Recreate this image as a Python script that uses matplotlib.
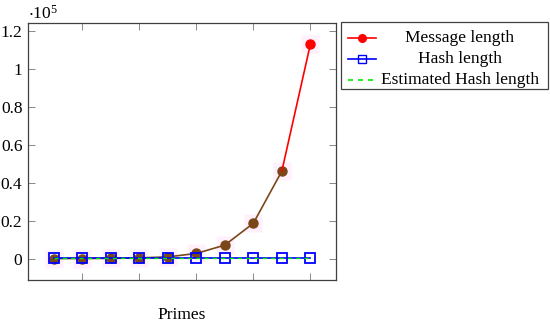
import matplotlib
matplotlib.use("Agg")
import matplotlib.pyplot as plt
from matplotlib.lines import Line2D
from matplotlib.patches import Rectangle
import numpy as np

plt.rcParams['font.family'] = ['Liberation Serif', 'DejaVu Serif']
plt.rcParams['mathtext.fontset'] = 'stix'

# data
primes = np.arange(1, 11)
message_length = [10, 40, 130, 350, 900, 2700, 7100, 18600, 46100, 113000]
hash_length = [200, 200, 200, 200, 200, 200, 200, 200, 200, 200]
est_hash_length = [200, 200, 200, 200, 200, 200, 200, 200, 200, 200]
labels = ['Message length', 'Hash length', 'Estimated Hash length']

W, H = 550, 327
fig = plt.figure(figsize=(W / 100, H / 100), dpi=100)
ax = fig.add_axes([28 / W, 1 - 280 / H, 308 / W, 257 / H])

scale = 1e5
msg = np.array(message_length) / scale
hsh = np.array(hash_length) / scale
est = np.array(est_hash_length) / scale

# faint pink halo blocks (compression artefacts in the original)
ax.plot(primes, msg, ls='none', marker='s', ms=13, mfc='#fff0fc', mec='none', zorder=1)

brown = '#7a4719'
ax.plot(primes[:-1], msg[:-1], color=brown, lw=1.2, marker='o', ms=6.5, zorder=3)
ax.plot(primes[-2:], msg[-2:], color='#ff0000', lw=1.2, zorder=3)
ax.plot(primes[-1:], msg[-1:], color='#ff0000', marker='o', ms=6.5, ls='none', zorder=4)
ax.plot(primes, hsh, color='#0000ff', lw=1.2, marker='s', ms=6.5, mfc='none', mew=1.3, zorder=5)
ax.plot(primes, est, color='#00ee00', lw=1.0, ls=(0, (3, 3)), zorder=6)

ax.set_xlim(0.1, 10.9)
ax.set_ylim(-0.113, 1.243)
ax.set_xticks([2, 4, 6, 8, 10])
ax.set_xticklabels([])
yt = [0, 0.2, 0.4, 0.6, 0.8, 1.0, 1.2]
ax.set_yticks(yt)
ax.set_yticklabels(['0', '0.2', '0.4', '0.6', '0.8', '1', '1.2'], fontsize=12.5)
ax.tick_params(direction='in', length=5, width=0.7, color='#888888',
               top=True, right=True, pad=4)
for s in ax.spines.values():
    s.set_color('#404040')
    s.set_linewidth(0.9)
ax.set_xlabel('Primes', fontsize=12.5)
ax.xaxis.set_label_coords(0.5, -0.105)

fig.text(28 / W, 1 - 14 / H, r'$\cdot\mathregular{10^5}$', fontsize=12.5, va='center', ha='left')

# legend box drawn by hand (centred entries like pgfplots)
tr = fig.transFigure
fig.add_artist(Rectangle((341 / W, 1 - 89 / H), 207 / W, 67 / H, transform=tr,
                         fill=False, ec='#404040', lw=0.9))
rows = [38, 59, 80]
line_styles = [dict(color='#ff0000', ls='-'),
               dict(color='#0000ff', ls='-'),
               dict(color='#00ee00', ls=(0, (3, 3)))]
marker_styles = [dict(color='#ff0000', marker='o', ms=5.5),
                 dict(color='#0000ff', marker='s', ms=5.5, mfc='none'),
                 None]
for y, lab, ls_, ms_ in zip(rows, labels, line_styles, marker_styles):
    yy = 1 - y / H
    fig.add_artist(Line2D([348 / W, 376 / W], [yy, yy], transform=tr, lw=1.2, **ls_))
    if ms_:
        fig.add_artist(Line2D([362 / W], [yy], transform=tr, ls='none', **ms_))
    fig.text(460 / W, yy, lab, fontsize=12.5, ha='center', va='center')

fig.savefig('out.png', dpi=100)
